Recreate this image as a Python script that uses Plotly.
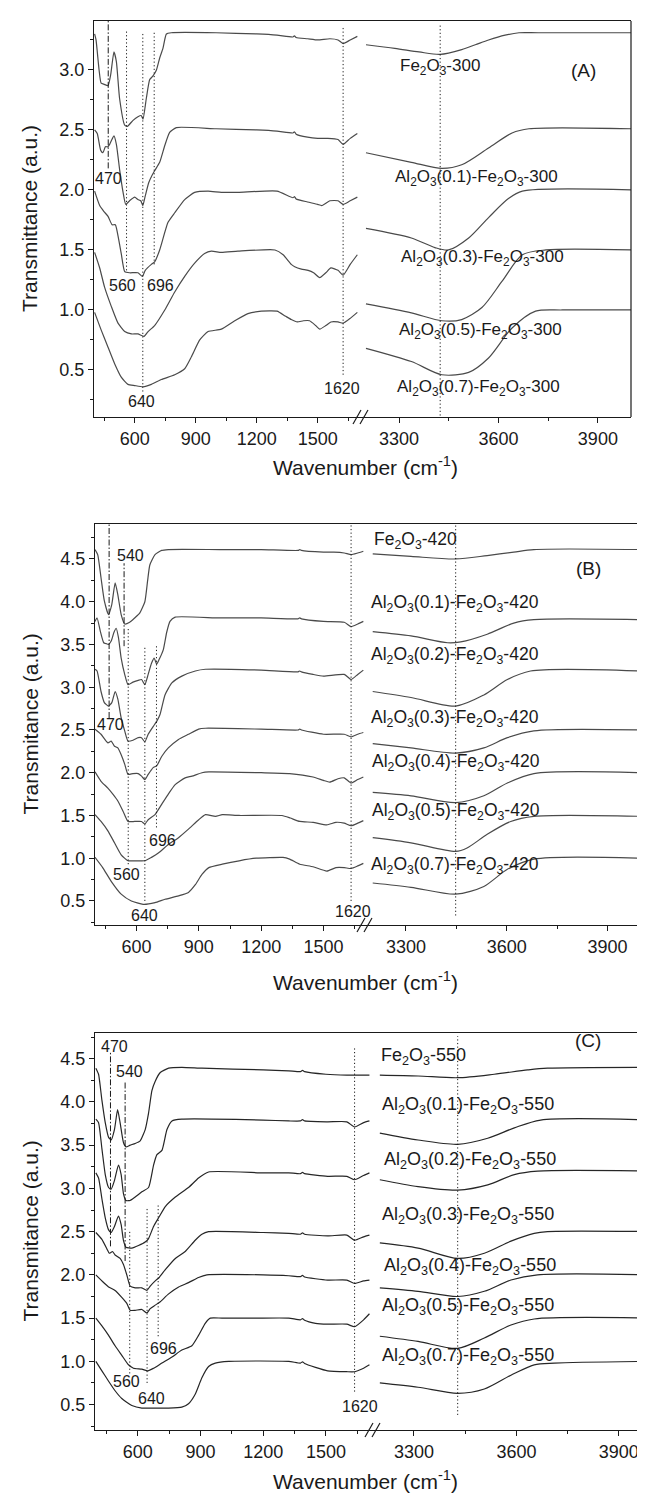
import plotly.graph_objects as go

W, H = 645, 1501
FONT = "Liberation Sans, Arial, sans-serif"


def fx(px):
    return px / W


def fy(py):
    return 1 - py / H


# ---------------- Panel A data (Fe2O3-300 series) ----------------
A_NAMES = ["Fe<sub>2</sub>O<sub>3</sub>-300",
           "Al<sub>2</sub>O<sub>3</sub>(0.1)-Fe<sub>2</sub>O<sub>3</sub>-300",
           "Al<sub>2</sub>O<sub>3</sub>(0.3)-Fe<sub>2</sub>O<sub>3</sub>-300",
           "Al<sub>2</sub>O<sub>3</sub>(0.5)-Fe<sub>2</sub>O<sub>3</sub>-300",
           "Al<sub>2</sub>O<sub>3</sub>(0.7)-Fe<sub>2</sub>O<sub>3</sub>-300"]

A1_LX = [403, 410, 425, 435, 450, 469, 482, 498, 510, 526, 551, 564, 592, 616, 632, 641, 657, 674, 690, 707, 723, 739, 756, 780, 1000, 1200, 1300, 1378, 1386, 1394, 1450, 1500, 1560, 1600, 1625, 1660, 1695]
A1_LY = [3.30, 3.25, 3.00, 2.89, 2.88, 2.87, 2.96, 3.15, 3.07, 2.76, 2.54, 2.53, 2.58, 2.61, 2.62, 2.59, 2.76, 2.92, 2.95, 3.00, 3.10, 3.18, 3.30, 3.31, 3.31, 3.30, 3.29, 3.275, 3.285, 3.27, 3.26, 3.25, 3.26, 3.25, 3.22, 3.25, 3.28]
A2_LX = [403, 416, 433, 444, 456, 469, 477, 498, 510, 526, 543, 556, 575, 600, 616, 630, 640, 652, 669, 685, 698, 723, 748, 772, 805, 1000, 1200, 1300, 1378, 1386, 1394, 1450, 1500, 1550, 1600, 1625, 1660, 1695]
A2_LY = [2.50, 2.47, 2.33, 2.31, 2.36, 2.36, 2.38, 2.45, 2.38, 2.17, 1.98, 1.88, 1.91, 1.94, 1.92, 1.91, 1.87, 1.95, 2.06, 2.12, 2.16, 2.23, 2.37, 2.48, 2.52, 2.51, 2.50, 2.49, 2.475, 2.485, 2.465, 2.44, 2.43, 2.43, 2.42, 2.38, 2.43, 2.47]
A3_LX = [403, 428, 449, 469, 489, 505, 521, 534, 551, 575, 616, 638, 652, 682, 698, 723, 764, 797, 846, 895, 961, 1026, 1108, 1300, 1378, 1386, 1394, 1450, 1500, 1520, 1560, 1600, 1625, 1660, 1695]
A3_LY = [1.99, 1.87, 1.82, 1.78, 1.71, 1.71, 1.59, 1.47, 1.32, 1.31, 1.31, 1.28, 1.33, 1.38, 1.40, 1.50, 1.73, 1.81, 1.92, 1.98, 1.99, 1.98, 1.98, 1.99, 1.935, 1.945, 1.925, 1.90, 1.88, 1.87, 1.91, 1.91, 1.88, 1.91, 1.94]
A4_LX = [403, 428, 452, 485, 518, 551, 584, 616, 646, 666, 698, 748, 797, 846, 895, 944, 977, 1026, 1108, 1290, 1330, 1370, 1387, 1420, 1453, 1480, 1510, 1540, 1565, 1600, 1625, 1660, 1695]
A4_LY = [1.48, 1.35, 1.19, 1.03, 0.89, 0.82, 0.80, 0.80, 0.78, 0.82, 0.87, 1.00, 1.15, 1.28, 1.39, 1.47, 1.49, 1.48, 1.49, 1.50, 1.46, 1.38, 1.36, 1.34, 1.33, 1.31, 1.27, 1.31, 1.35, 1.33, 1.29, 1.38, 1.46]
A5_LX = [403, 436, 469, 502, 534, 567, 600, 641, 682, 731, 797, 846, 879, 920, 961, 1026, 1092, 1157, 1223, 1300, 1340, 1370, 1400, 1430, 1460, 1490, 1510, 1540, 1565, 1600, 1625, 1660, 1695]
A5_LY = [0.98, 0.83, 0.69, 0.55, 0.44, 0.38, 0.37, 0.36, 0.38, 0.42, 0.46, 0.51, 0.61, 0.75, 0.82, 0.84, 0.91, 0.97, 0.99, 0.99, 0.95, 0.92, 0.90, 0.91, 0.91, 0.87, 0.84, 0.87, 0.90, 0.90, 0.89, 0.93, 0.98]

A1_RX = [3200, 3287, 3360, 3424, 3489, 3530, 3570, 3620, 3662, 3720, 4000]
A1_RY = [3.21, 3.18, 3.15, 3.13, 3.17, 3.21, 3.25, 3.29, 3.31, 3.31, 3.31]
A2_RX = [3200, 3337, 3429, 3489, 3570, 3641, 3692, 4000]
A2_RY = [2.31, 2.23, 2.18, 2.21, 2.35, 2.475, 2.51, 2.51]
A3_RX = [3200, 3337, 3408, 3449, 3510, 3570, 3631, 3672, 4000]
A3_RY = [1.68, 1.60, 1.52, 1.50, 1.60, 1.77, 1.93, 1.99, 2.00]
A4_RX = [3200, 3337, 3429, 3489, 3550, 3611, 3672, 3743, 4000]
A4_RY = [1.05, 0.975, 0.91, 0.92, 1.02, 1.24, 1.46, 1.50, 1.50]
A5_RX = [3200, 3337, 3429, 3510, 3570, 3641, 3712, 3793, 4000]
A5_RY = [0.68, 0.57, 0.46, 0.48, 0.60, 0.85, 0.99, 1.00, 1.00]

# ---------------- Panel B data (Fe2O3-420 series) ----------------
B_NAMES = ["Fe<sub>2</sub>O<sub>3</sub>-420",
           "Al<sub>2</sub>O<sub>3</sub>(0.1)-Fe<sub>2</sub>O<sub>3</sub>-420",
           "Al<sub>2</sub>O<sub>3</sub>(0.2)-Fe<sub>2</sub>O<sub>3</sub>-420",
           "Al<sub>2</sub>O<sub>3</sub>(0.3)-Fe<sub>2</sub>O<sub>3</sub>-420",
           "Al<sub>2</sub>O<sub>3</sub>(0.4)-Fe<sub>2</sub>O<sub>3</sub>-420",
           "Al<sub>2</sub>O<sub>3</sub>(0.5)-Fe<sub>2</sub>O<sub>3</sub>-420",
           "Al<sub>2</sub>O<sub>3</sub>(0.7)-Fe<sub>2</sub>O<sub>3</sub>-420"]

B1_LX = [400, 413, 429, 445, 465, 481, 497, 510, 526, 543, 567, 591, 616, 640, 653, 664, 689, 721, 753, 1000, 1200, 1378, 1386, 1394, 1500, 1550, 1600, 1633, 1665, 1692]
B1_LY = [4.61, 4.55, 4.28, 4.01, 3.85, 3.97, 4.22, 4.08, 3.85, 3.74, 3.76, 3.81, 3.87, 4.00, 4.24, 4.43, 4.55, 4.60, 4.61, 4.61, 4.61, 4.60, 4.61, 4.60, 4.58, 4.58, 4.57, 4.55, 4.57, 4.59]
B2_LX = [400, 410, 426, 442, 453, 465, 478, 491, 502, 513, 526, 543, 559, 583, 608, 624, 640, 656, 672, 685, 697, 708, 729, 745, 761, 786, 1000, 1200, 1378, 1386, 1394, 1500, 1600, 1633, 1665, 1692]
B2_LY = [3.77, 3.81, 3.65, 3.52, 3.51, 3.50, 3.54, 3.64, 3.69, 3.58, 3.34, 3.15, 3.03, 3.06, 3.08, 3.09, 3.03, 3.15, 3.28, 3.34, 3.27, 3.32, 3.44, 3.64, 3.77, 3.82, 3.81, 3.81, 3.80, 3.81, 3.80, 3.77, 3.76, 3.71, 3.74, 3.77]
B3_LX = [400, 410, 429, 445, 465, 481, 497, 510, 526, 543, 559, 583, 608, 624, 640, 656, 680, 697, 713, 737, 770, 818, 883, 932, 1200, 1378, 1386, 1394, 1450, 1500, 1600, 1633, 1665, 1692]
B3_LY = [3.21, 3.19, 2.95, 2.82, 2.78, 2.82, 2.95, 2.86, 2.64, 2.49, 2.37, 2.38, 2.41, 2.41, 2.36, 2.45, 2.54, 2.60, 2.68, 2.91, 3.05, 3.13, 3.19, 3.21, 3.20, 3.18, 3.19, 3.18, 3.15, 3.13, 3.15, 3.09, 3.15, 3.20]
B4_LX = [400, 429, 462, 478, 494, 510, 526, 543, 559, 583, 608, 624, 640, 656, 680, 697, 721, 753, 802, 850, 899, 932, 1200, 1378, 1386, 1394, 1500, 1600, 1633, 1665, 1692]
B4_LY = [2.51, 2.45, 2.35, 2.37, 2.31, 2.29, 2.21, 2.10, 1.98, 1.99, 1.99, 1.96, 1.92, 1.98, 2.06, 2.08, 2.19, 2.29, 2.39, 2.45, 2.51, 2.52, 2.51, 2.50, 2.51, 2.50, 2.45, 2.45, 2.42, 2.45, 2.47]
B5_LX = [400, 429, 462, 486, 510, 535, 559, 591, 624, 640, 656, 689, 721, 753, 786, 834, 867, 915, 948, 1200, 1337, 1450, 1500, 1530, 1570, 1600, 1633, 1665, 1692]
B5_LY = [2.01, 1.90, 1.82, 1.75, 1.67, 1.55, 1.43, 1.43, 1.43, 1.40, 1.45, 1.51, 1.63, 1.75, 1.86, 1.94, 1.96, 2.00, 2.01, 2.00, 1.99, 1.95, 1.91, 1.89, 1.93, 1.94, 1.88, 1.92, 1.95]
B6_LX = [400, 429, 462, 494, 526, 559, 591, 640, 672, 705, 753, 802, 850, 899, 932, 980, 1013, 1094, 1300, 1340, 1386, 1450, 1516, 1560, 1600, 1633, 1665, 1692]
B6_LY = [1.51, 1.43, 1.32, 1.18, 1.04, 0.97, 0.97, 0.97, 1.01, 1.06, 1.16, 1.24, 1.34, 1.45, 1.51, 1.49, 1.51, 1.50, 1.50, 1.47, 1.43, 1.42, 1.39, 1.42, 1.41, 1.38, 1.41, 1.44]
B7_LX = [400, 437, 478, 526, 575, 632, 689, 737, 802, 850, 883, 915, 948, 1013, 1094, 1175, 1305, 1337, 1386, 1450, 1516, 1560, 1600, 1633, 1665, 1692]
B7_LY = [1.01, 0.89, 0.73, 0.58, 0.50, 0.46, 0.48, 0.52, 0.56, 0.60, 0.69, 0.81, 0.89, 0.93, 0.97, 1.00, 1.01, 0.99, 0.93, 0.90, 0.85, 0.89, 0.89, 0.88, 0.91, 0.94]

B1_RX = [3201, 3315, 3448, 3542, 3621, 3681, 4000]
B1_RY = [4.56, 4.53, 4.50, 4.54, 4.58, 4.61, 4.61]
B2_RX = [3201, 3315, 3424, 3463, 3542, 3621, 3681, 4000]
B2_RY = [3.65, 3.60, 3.52, 3.53, 3.62, 3.75, 3.79, 3.79]
B3_RX = [3201, 3315, 3448, 3532, 3602, 3671, 4000]
B3_RY = [2.95, 2.88, 2.78, 2.91, 3.09, 3.19, 3.19]
B4_RX = [3201, 3315, 3448, 3532, 3602, 3681, 4000]
B4_RY = [2.34, 2.29, 2.23, 2.29, 2.41, 2.49, 2.50]
B5_RX = [3201, 3315, 3448, 3532, 3602, 3681, 4000]
B5_RY = [1.77, 1.73, 1.65, 1.73, 1.88, 1.99, 2.00]
B6_RX = [3201, 3315, 3448, 3482, 3542, 3612, 3681, 4000]
B6_RY = [1.24, 1.18, 1.08, 1.12, 1.28, 1.43, 1.49, 1.49]
B7_RX = [3201, 3315, 3448, 3532, 3602, 3681, 4000]
B7_RY = [0.71, 0.66, 0.58, 0.67, 0.87, 0.99, 1.00]

# ---------------- Panel C data (Fe2O3-550 series) ----------------
C_NAMES = ["Fe<sub>2</sub>O<sub>3</sub>-550",
           "Al<sub>2</sub>O<sub>3</sub>(0.1)-Fe<sub>2</sub>O<sub>3</sub>-550",
           "Al<sub>2</sub>O<sub>3</sub>(0.2)-Fe<sub>2</sub>O<sub>3</sub>-550",
           "Al<sub>2</sub>O<sub>3</sub>(0.3)-Fe<sub>2</sub>O<sub>3</sub>-550",
           "Al<sub>2</sub>O<sub>3</sub>(0.4)-Fe<sub>2</sub>O<sub>3</sub>-550",
           "Al<sub>2</sub>O<sub>3</sub>(0.5)-Fe<sub>2</sub>O<sub>3</sub>-550",
           "Al<sub>2</sub>O<sub>3</sub>(0.7)-Fe<sub>2</sub>O<sub>3</sub>-550"]

C1_LX = [400, 413, 429, 445, 461, 473, 489, 504, 516, 532, 544, 564, 588, 612, 636, 652, 668, 684, 708, 748, 811, 907, 1200, 1322, 1378, 1388, 1398, 1500, 1600, 1708]
C1_LY = [4.39, 4.32, 4.02, 3.76, 3.59, 3.56, 3.68, 3.91, 3.76, 3.53, 3.48, 3.50, 3.52, 3.55, 3.68, 3.87, 4.13, 4.24, 4.34, 4.39, 4.40, 4.39, 4.37, 4.36, 4.35, 4.365, 4.35, 4.32, 4.31, 4.31]
C2_LX = [400, 413, 429, 445, 461, 473, 489, 508, 521, 532, 544, 564, 588, 620, 652, 676, 692, 716, 740, 764, 811, 1200, 1322, 1378, 1388, 1398, 1508, 1600, 1637, 1680, 1708]
C2_LY = [3.80, 3.76, 3.46, 3.16, 3.01, 2.99, 3.09, 3.27, 3.16, 2.94, 2.86, 2.86, 2.90, 2.96, 3.01, 3.27, 3.39, 3.44, 3.68, 3.78, 3.80, 3.79, 3.78, 3.78, 3.795, 3.78, 3.77, 3.77, 3.71, 3.76, 3.78]
C3_LX = [400, 413, 429, 445, 461, 473, 489, 508, 521, 532, 544, 572, 604, 636, 652, 676, 700, 732, 780, 843, 891, 939, 1200, 1322, 1378, 1388, 1398, 1508, 1600, 1637, 1680, 1708]
C3_LY = [3.18, 3.12, 2.88, 2.66, 2.52, 2.49, 2.56, 2.68, 2.58, 2.40, 2.32, 2.31, 2.34, 2.38, 2.42, 2.56, 2.66, 2.79, 2.90, 3.01, 3.12, 3.19, 3.18, 3.18, 3.17, 3.185, 3.17, 3.14, 3.14, 3.10, 3.15, 3.18]
C4_LX = [400, 429, 453, 464, 480, 492, 516, 532, 548, 564, 588, 620, 644, 660, 684, 703, 732, 780, 827, 875, 907, 939, 1200, 1322, 1378, 1388, 1398, 1508, 1600, 1637, 1680, 1708]
C4_LY = [2.49, 2.41, 2.30, 2.25, 2.27, 2.23, 2.19, 2.12, 2.00, 1.87, 1.85, 1.85, 1.82, 1.87, 1.93, 1.97, 2.06, 2.19, 2.27, 2.40, 2.47, 2.50, 2.49, 2.48, 2.47, 2.485, 2.47, 2.45, 2.46, 2.40, 2.44, 2.46]
C5_LX = [400, 429, 461, 492, 524, 548, 564, 588, 620, 644, 660, 684, 708, 748, 796, 843, 891, 931, 1200, 1322, 1378, 1388, 1398, 1508, 1600, 1637, 1680, 1708]
C5_LY = [2.00, 1.93, 1.86, 1.82, 1.74, 1.67, 1.59, 1.59, 1.60, 1.56, 1.61, 1.65, 1.69, 1.78, 1.86, 1.91, 1.97, 2.00, 2.00, 1.99, 1.98, 1.995, 1.975, 1.94, 1.94, 1.90, 1.93, 1.94]
C6_LX = [400, 429, 461, 492, 524, 556, 580, 620, 649, 676, 716, 764, 811, 859, 891, 923, 947, 1003, 1162, 1322, 1378, 1388, 1398, 1450, 1508, 1600, 1637, 1680, 1708]
C6_LY = [1.50, 1.41, 1.30, 1.18, 1.07, 0.96, 0.92, 0.91, 0.89, 0.92, 0.98, 1.05, 1.13, 1.18, 1.30, 1.44, 1.50, 1.50, 1.50, 1.50, 1.48, 1.495, 1.475, 1.44, 1.43, 1.43, 1.40, 1.48, 1.55]
C7_LX = [400, 429, 461, 492, 524, 572, 620, 684, 748, 811, 843, 875, 907, 939, 971, 1035, 1322, 1378, 1388, 1398, 1450, 1508, 1600, 1637, 1680, 1708]
C7_LY = [1.00, 0.89, 0.77, 0.66, 0.57, 0.49, 0.46, 0.46, 0.46, 0.47, 0.51, 0.62, 0.81, 0.94, 0.98, 1.00, 1.00, 0.98, 0.995, 0.975, 0.93, 0.89, 0.88, 0.88, 0.92, 0.96]

C1_RX = [3200, 3312, 3428, 3535, 3633, 3691, 4000]
C1_RY = [4.31, 4.30, 4.28, 4.32, 4.37, 4.39, 4.40]
C2_RX = [3200, 3312, 3428, 3516, 3594, 3671, 4000]
C2_RY = [3.64, 3.56, 3.51, 3.58, 3.70, 3.79, 3.79]
C3_RX = [3200, 3312, 3428, 3516, 3594, 3662, 4000]
C3_RY = [3.10, 3.02, 2.98, 3.04, 3.16, 3.20, 3.20]
C4_RX = [3200, 3312, 3428, 3506, 3584, 3652, 3691, 4000]
C4_RY = [2.37, 2.31, 2.19, 2.25, 2.39, 2.48, 2.50, 2.50]
C5_RX = [3200, 3312, 3428, 3506, 3584, 3662, 4000]
C5_RY = [1.85, 1.81, 1.75, 1.81, 1.94, 2.00, 2.00]
C6_RX = [3200, 3312, 3428, 3506, 3584, 3652, 4000]
C6_RY = [1.29, 1.23, 1.15, 1.27, 1.42, 1.49, 1.50]
C7_RX = [3200, 3312, 3428, 3506, 3584, 3652, 3711, 4000]
C7_RY = [0.75, 0.70, 0.63, 0.68, 0.84, 0.96, 0.98, 1.00]

# ---------------- Marker lines (wavenumber, y from, y to, style) ----------------
A_MARK_X = [470, 560, 640, 696, 1625]
A_MARK_Y0 = [2.18, 1.33, 0.32, 1.38, 0.46]
A_MARK_Y1 = [3.41, 3.33, 3.31, 3.33, 3.37]
A_MARK_STYLE = ["dashdot", "dot", "dot", "dot", "dot"]
A_OH_X, A_OH_Y0, A_OH_Y1 = 3424, 0.12, 3.37

B_MARK_X = [468, 540, 560, 640, 696, 1633]
B_MARK_Y0 = [2.64, 3.48, 0.93, 0.50, 1.36, 0.50]
B_MARK_Y1 = [4.91, 4.45, 3.69, 3.48, 3.50, 4.91]
B_MARK_STYLE = ["dashdot", "dashdot", "dot", "dot", "dot", "dot"]
B_OH_X, B_OH_Y0, B_OH_Y1 = 3448, 0.33, 4.91

C_MARK_X = [470, 540, 562, 645, 698, 1637]
C_MARK_Y0 = [2.33, 2.16, 0.86, 0.75, 1.29, 0.65]
C_MARK_Y1 = [4.59, 4.24, 2.52, 2.77, 2.81, 4.62]
C_MARK_STYLE = ["dashdot", "dashdot", "dot", "dot", "dot", "dot"]
C_OH_X, C_OH_Y0, C_OH_Y1 = 3428, 0.38, 4.76

PEAK_TEXT_A = ["470", "560", "696", "640", "1620"]
PEAK_TEXT_B = ["540", "470", "696", "560", "640", "1620"]
PEAK_TEXT_C = ["470", "540", "696", "560", "640", "1620"]

A_L = [(A1_LX, A1_LY), (A2_LX, A2_LY), (A3_LX, A3_LY), (A4_LX, A4_LY), (A5_LX, A5_LY)]
A_R = [(A1_RX, A1_RY), (A2_RX, A2_RY), (A3_RX, A3_RY), (A4_RX, A4_RY), (A5_RX, A5_RY)]
B_L = [(B1_LX, B1_LY), (B2_LX, B2_LY), (B3_LX, B3_LY), (B4_LX, B4_LY), (B5_LX, B5_LY), (B6_LX, B6_LY), (B7_LX, B7_LY)]
B_R = [(B1_RX, B1_RY), (B2_RX, B2_RY), (B3_RX, B3_RY), (B4_RX, B4_RY), (B5_RX, B5_RY), (B6_RX, B6_RY), (B7_RX, B7_RY)]
C_L = [(C1_LX, C1_LY), (C2_LX, C2_LY), (C3_LX, C3_LY), (C4_LX, C4_LY), (C5_LX, C5_LY), (C6_LX, C6_LY), (C7_LX, C7_LY)]
C_R = [(C1_RX, C1_RY), (C2_RX, C2_RY), (C3_RX, C3_RY), (C4_RX, C4_RY), (C5_RX, C5_RY), (C6_RX, C6_RY), (C7_RX, C7_RY)]

# ---------------- layout geometry (pixels) ----------------
panels = [
    dict(xl="x", xr="x2", y="y", left=86, brk=353, right=623, top=13, bottom=409,
         lrange=[400, 1713], rrange=[3185, 4000], yrange=[0.108, 3.408],
         L=A_L, R=A_R, names=A_NAMES, color="#4a4a4a", lab_fs=17,
         name_pos=[(432, 59), (468, 170), (474, 250), (473, 323), (470, 380)],
         tag="(A)", tag_pos=(590, 50),
         peaks=PEAK_TEXT_A, peak_pos=[(100, 170), (114, 277), (152, 277), (133, 393), (334, 380)],
         mx=A_MARK_X, my0=A_MARK_Y0, my1=A_MARK_Y1, ms=A_MARK_STYLE,
         oh=(A_OH_X, A_OH_Y0, A_OH_Y1), ytitle="Transmittance (a.u.)", xtitle_y=458),
    dict(xl="x3", xr="x4", y="y2", left=87, brk=357, right=633, top=516, bottom=917,
         lrange=[400, 1700], rrange=[3178, 4000], yrange=[0.219, 4.909],
         L=B_L, R=B_R, names=B_NAMES, color="#4a4a4a", lab_fs=17.5,
         name_pos=[(407, 533), (447, 595), (447, 648), (447, 710), (448, 755), (448, 803), (447, 857)],
         tag="(B)", tag_pos=(595, 560),
         peaks=PEAK_TEXT_B, peak_pos=[(122, 547), (102, 717), (154, 832), (118, 867), (136, 907), (345, 903)],
         mx=B_MARK_X, my0=B_MARK_Y0, my1=B_MARK_Y1, ms=B_MARK_STYLE,
         oh=(B_OH_X, B_OH_Y0, B_OH_Y1), ytitle="Transmitance (a.u.)", xtitle_y=973),
    dict(xl="x5", xr="x6", y="y3", left=87, brk=365, right=645, top=1025, bottom=1422,
         lrange=[396, 1725], rrange=[3180, 4000], yrange=[0.206, 4.797],
         L=C_L, R=C_R, names=C_NAMES, color="#262626", lab_fs=18,
         name_pos=[(415, 1048), (460, 1097), (462, 1152), (460, 1207), (462, 1258), (460, 1298), (460, 1348)],
         tag="(C)", tag_pos=(595, 1045),
         peaks=PEAK_TEXT_C, peak_pos=[(106, 1038), (121, 1063), (155, 1340), (118, 1373), (143, 1390), (352, 1398)],
         mx=C_MARK_X, my0=C_MARK_Y0, my1=C_MARK_Y1, ms=C_MARK_STYLE,
         oh=(C_OH_X, C_OH_Y0, C_OH_Y1), ytitle="Transmitance (a.u.)", xtitle_y=1472),
]

TICK_FS = 18
TITLE_FS = 21

fig = go.Figure()
layout = dict(width=W, height=H, margin=dict(l=0, r=0, t=0, b=0),
              paper_bgcolor="white", plot_bgcolor="white", showlegend=False,
              font=dict(family=FONT, color="#1a1a1a"))
shapes, annotations = [], []
DASH = {"dot": "1.2px,2.4px", "dashdot": "6px,2px,1.5px,2px"}

for i, p in enumerate(panels):
    xl, xr, y = p["xl"], p["xr"], p["y"]
    xl_key = "xaxis" + xl[1:]
    xr_key = "xaxis" + xr[1:]
    y_key = "yaxis" + y[1:]
    common_x = dict(showline=True, mirror=True, linecolor="#1a1a1a", linewidth=1.2,
                    ticks="outside", ticklen=5, tickwidth=1.1, tickcolor="#1a1a1a",
                    showgrid=False, zeroline=False, anchor=y,
                    tickfont=dict(size=TICK_FS, family=FONT, color="#1a1a1a"))
    layout[xl_key] = dict(common_x, domain=[fx(p["left"]), fx(p["brk"])], range=p["lrange"],
                          tick0=0, dtick=300,
                          minor=dict(tick0=0, dtick=150, ticks="outside", ticklen=3, tickcolor="#1a1a1a"))
    layout[xr_key] = dict(common_x, domain=[fx(p["brk"]), fx(p["right"])], range=p["rrange"],
                          tick0=3300, dtick=300,
                          minor=dict(tick0=3300, dtick=150, ticks="outside", ticklen=3, tickcolor="#1a1a1a"))
    layout[y_key] = dict(domain=[fy(p["bottom"]), fy(p["top"])], range=p["yrange"], anchor=xl,
                         showline=True, linecolor="#1a1a1a", linewidth=1.2, ticks="outside",
                         ticklen=5, tickwidth=1.1, tickcolor="#1a1a1a", tick0=0, dtick=0.5,
                         tickformat=".1f", showgrid=False, zeroline=False,
                         minor=dict(tick0=0, dtick=0.25, ticks="outside", ticklen=3, tickcolor="#1a1a1a"),
                         tickfont=dict(size=TICK_FS, family=FONT, color="#1a1a1a"))

    for (lx, ly) in p["L"]:
        fig.add_trace(go.Scatter(x=lx, y=ly, xaxis=xl, yaxis=y, mode="lines",
                                 line=dict(color=p["color"], width=1.2, shape="spline", smoothing=0.5),
                                 hoverinfo="skip"))
    for (rx, ry) in p["R"]:
        fig.add_trace(go.Scatter(x=rx, y=ry, xaxis=xr, yaxis=y, mode="lines",
                                 line=dict(color=p["color"], width=1.2, shape="spline", smoothing=0.8),
                                 hoverinfo="skip"))

    # marker lines
    for mx, y0, y1, st in zip(p["mx"], p["my0"], p["my1"], p["ms"]):
        shapes.append(dict(type="line", xref=xl, yref=y, x0=mx, x1=mx, y0=y0, y1=y1,
                           line=dict(color="#1a1a1a", width=1, dash=DASH[st])))
    ox, oy0, oy1 = p["oh"]
    shapes.append(dict(type="line", xref=xr, yref=y, x0=ox, x1=ox, y0=oy0, y1=oy1,
                       line=dict(color="#1a1a1a", width=1, dash=DASH["dot"])))

    # right border
    shapes.append(dict(type="line", xref="paper", yref="paper", x0=fx(p["right"]), x1=fx(p["right"]),
                       y0=fy(p["bottom"]), y1=fy(p["top"]), line=dict(color="#1a1a1a", width=1.2)))
    # axis break marks //
    b, k = p["bottom"], p["brk"]
    for off in (-7, 0):
        shapes.append(dict(type="line", xref="paper", yref="paper",
                           x0=fx(k + off - 1), y0=fy(b + 7), x1=fx(k + off + 7), y1=fy(b - 7),
                           line=dict(color="#1a1a1a", width=1.2)))

    # curve names
    for name, (px, py) in zip(p["names"], p["name_pos"]):
        annotations.append(dict(text=name, x=fx(px), y=fy(py), xref="paper", yref="paper",
                                showarrow=False, xanchor="center", yanchor="middle",
                                font=dict(size=p["lab_fs"], family=FONT, color="#1a1a1a")))
    annotations.append(dict(text=p["tag"], x=fx(p["tag_pos"][0]), y=fy(p["tag_pos"][1]),
                            xref="paper", yref="paper", showarrow=False,
                            font=dict(size=19, family=FONT, color="#1a1a1a")))
    for t, (px, py) in zip(p["peaks"], p["peak_pos"]):
        annotations.append(dict(text=t, x=fx(px), y=fy(py), xref="paper", yref="paper",
                                showarrow=False, xanchor="center", yanchor="middle",
                                font=dict(size=16, family=FONT, color="#1a1a1a")))
    # axis titles
    annotations.append(dict(text="Wavenumber (cm<sup>-1</sup>)", x=fx(357), y=fy(p["xtitle_y"]),
                            xref="paper", yref="paper", showarrow=False,
                            xanchor="center", yanchor="middle",
                            font=dict(size=TITLE_FS, family=FONT, color="#1a1a1a")))
    annotations.append(dict(text=p["ytitle"], x=fx(22), y=fy((p["top"] + p["bottom"]) / 2),
                            xref="paper", yref="paper", showarrow=False, textangle=-90,
                            xanchor="center", yanchor="middle",
                            font=dict(size=TITLE_FS, family=FONT, color="#1a1a1a")))

layout["shapes"] = shapes
layout["annotations"] = annotations
fig.update_layout(**layout)
fig.write_html("out.html")
